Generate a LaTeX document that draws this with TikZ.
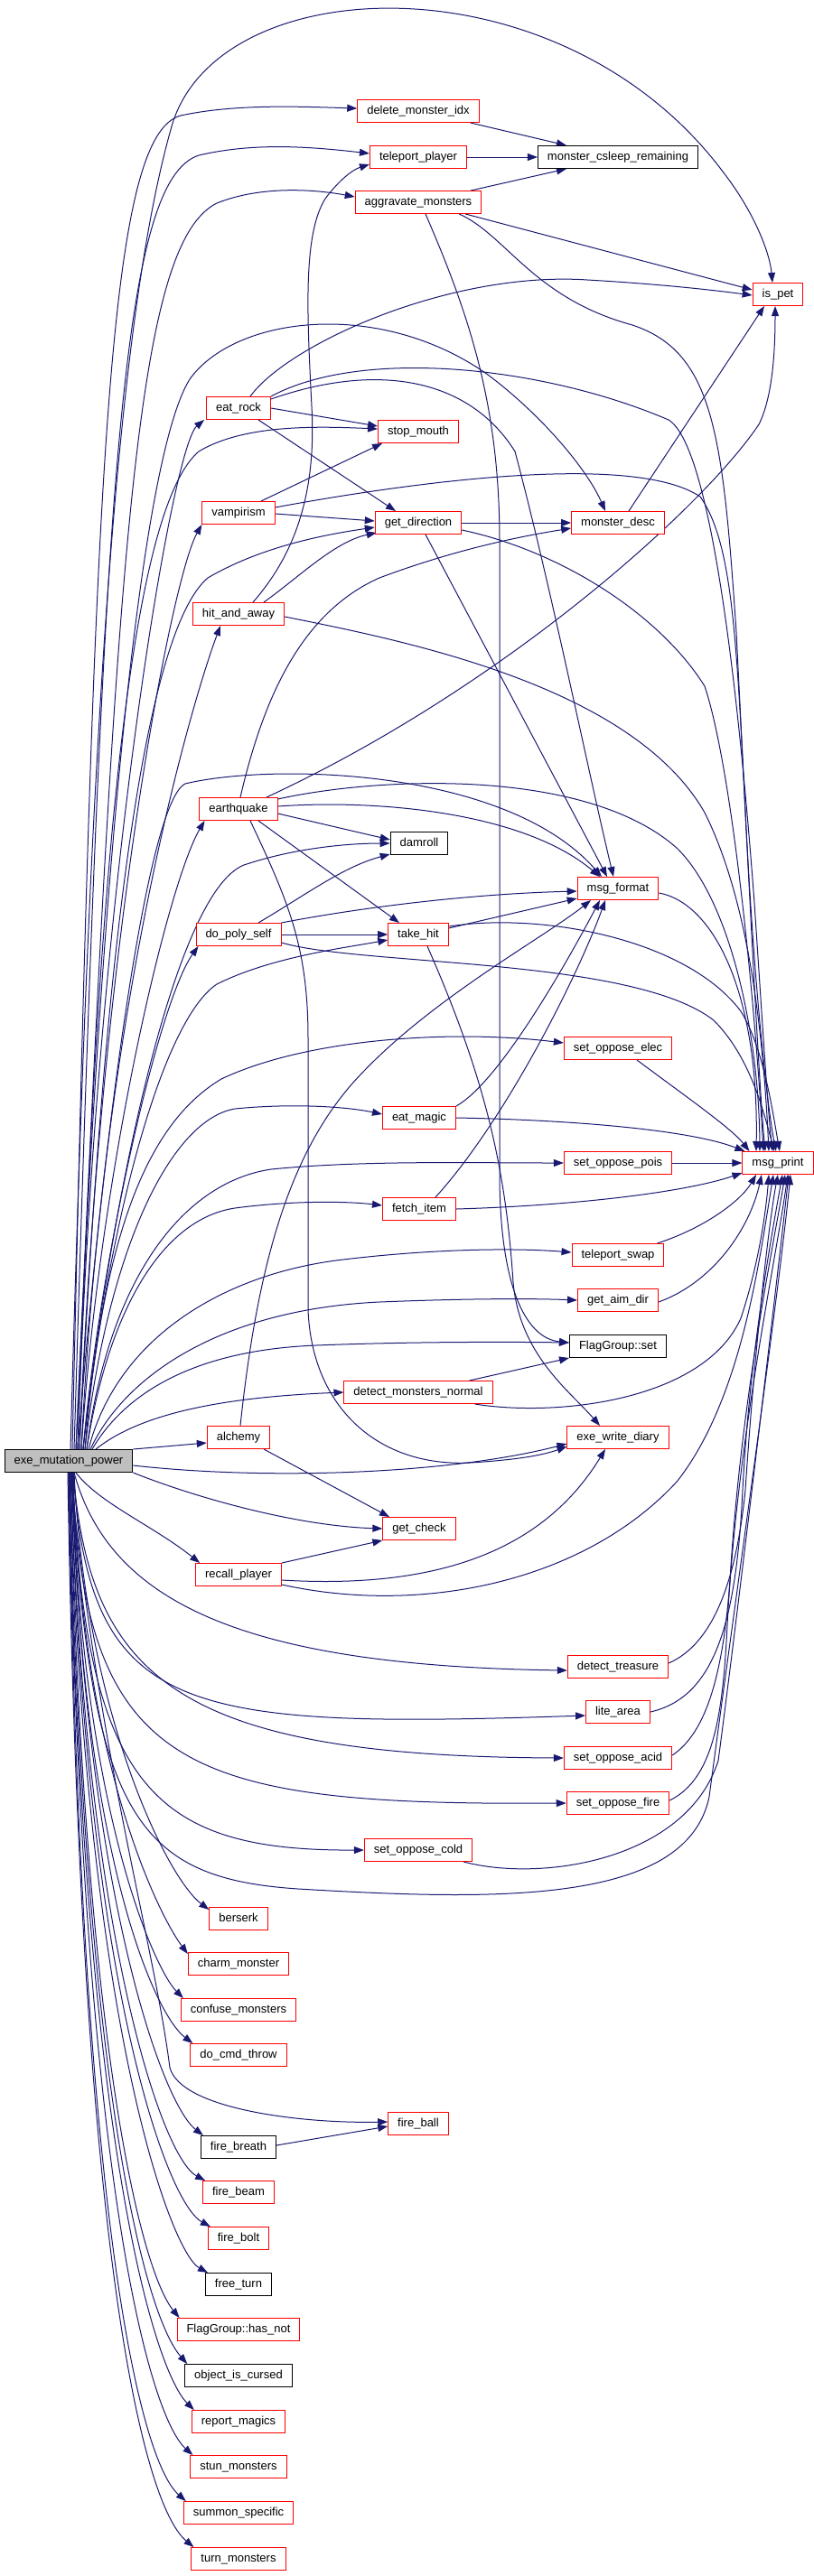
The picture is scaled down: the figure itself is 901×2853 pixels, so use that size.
\documentclass[tikz,border=0pt]{standalone}
\usepackage{fontspec}
\setmainfont{Liberation Sans}
\usetikzlibrary{arrows.meta}
\definecolor{edgeblue}{HTML}{191970}
\definecolor{rootgray}{HTML}{BFBFBF}
\definecolor{nodered}{HTML}{FF0000}
\newcommand\nodefont{\fontsize{13}{15}\selectfont}
\pgfdeclarelayer{bg}
\pgfsetlayers{bg,main}
\tikzset{
  fnode/.style={draw=nodered, line width=1pt, fill=white, font=\nodefont, inner xsep=10.5pt, inner ysep=0pt, minimum height=25pt, text height=9.6pt, text depth=3pt},
  knode/.style={fnode, draw=black},
  rnode/.style={fnode, draw=black, fill=rootgray},
  call/.style={draw=edgeblue, line width=1pt, -{Triangle[length=11pt,width=8pt]}},
}
\begin{document}
\begin{tikzpicture}[x=1pt,y=-1pt]
\useasboundingbox (0,0) rectangle (901,2853);
% nodes
\node[rnode] (E) at (76,1618) {exe\_mutation\_power};
\node[fnode] (dmi) at (463,123) {delete\_monster\_idx};
\node[fnode] (tp) at (463,174) {teleport\_player};
\node[knode] (mcr) at (684,174) {monster\_csleep\_remaining};
\node[fnode] (agg) at (463,224) {aggravate\_monsters};
\node[fnode] (ispet) at (861,326) {is\_pet};
\node[fnode] (er) at (264,452) {eat\_rock};
\node[fnode] (sm) at (463,478) {stop\_mouth};
\node[fnode] (vamp) at (264,568) {vampirism};
\node[fnode] (gd) at (463,579) {get\_direction};
\node[fnode] (md) at (684,579) {monster\_desc};
\node[fnode] (haa) at (264,680) {hit\_and\_away};
\node[fnode] (eq) at (264,896) {earthquake};
\node[knode] (dr) at (464,934) {damroll};
\node[fnode] (mf) at (684,984) {msg\_format};
\node[fnode] (dps) at (264,1035) {do\_poly\_self};
\node[fnode] (th) at (463,1035) {take\_hit};
\node[fnode] (soe) at (684,1161) {set\_oppose\_elec};
\node[fnode] (em) at (464,1238) {eat\_magic};
\node[fnode] (sop) at (684,1288) {set\_oppose\_pois};
\node[fnode] (mp) at (861,1288) {msg\_print};
\node[fnode] (fi) at (464,1339) {fetch\_item};
\node[fnode] (ts) at (684,1390) {teleport\_swap};
\node[fnode] (gad) at (684,1440) {get\_aim\_dir};
\node[knode] (fgs) at (684,1491) {FlagGroup::set};
\node[fnode] (dmn) at (463,1542) {detect\_monsters\_normal};
\node[fnode] (alc) at (264,1592) {alchemy};
\node[fnode] (ewd) at (684,1592) {exe\_write\_diary};
\node[fnode] (gc) at (464,1693) {get\_check};
\node[fnode] (rp) at (264,1744) {recall\_player};
\node[fnode] (dt) at (684,1846) {detect\_treasure};
\node[fnode] (la) at (684,1896) {lite\_area};
\node[fnode] (soa) at (684,1947) {set\_oppose\_acid};
\node[fnode] (sof) at (684,1997) {set\_oppose\_fire};
\node[fnode] (soc) at (463,2049) {set\_oppose\_cold};
\node[fnode] (bz) at (264,2125) {berserk};
\node[fnode] (cm) at (264,2175) {charm\_monster};
\node[fnode] (cfm) at (264,2226) {confuse\_monsters};
\node[fnode] (dct) at (264,2276) {do\_cmd\_throw};
\node[fnode] (fb) at (463,2352) {fire\_ball};
\node[knode] (fbr) at (264,2378) {fire\_breath};
\node[fnode] (fbm) at (264,2428) {fire\_beam};
\node[fnode] (fbo) at (264,2479) {fire\_bolt};
\node[knode] (ft) at (264,2530) {free\_turn};
\node[fnode] (fhn) at (264,2580) {FlagGroup::has\_not};
\node[knode] (oic) at (264,2631) {object\_is\_cursed};
\node[fnode] (rm) at (264,2682) {report\_magics};
\node[fnode] (stm) at (264,2732) {stun\_monsters};
\node[fnode] (ss) at (264,2783) {summon\_specific};
\node[fnode] (tm) at (264,2834) {turn\_monsters};
\begin{pgfonlayer}{bg}
% ---- from exe_mutation_power, upward
\draw[call] ([xshift=2pt]E.north) .. controls (100,800) and (130,350) .. (190,140) .. controls (240,-35) and (620,-50) .. (800,190) .. controls (835,235) and (852,280) .. ([xshift=-6pt]ispet.north);
\draw[call] ([xshift=4pt]E.north) .. controls (105,500) and (120,150) .. (200,128) .. controls (260,115) and (330,118) .. ([yshift=3pt]dmi.west);
\draw[call] ([xshift=6pt]E.north) .. controls (115,520) and (135,200) .. (220,172) .. controls (280,158) and (340,162) .. ([yshift=4pt]tp.west);
\draw[call] ([xshift=8pt]E.north) .. controls (130,600) and (150,270) .. (240,225) .. controls (290,205) and (350,210) .. ([yshift=6pt]agg.west);
\draw[call] ([xshift=10pt]E.north) .. controls (105,1000) and (190,495) .. ([xshift=-2pt]er.south west);
\draw[call] ([xshift=10pt]E.north) .. controls (110,900) and (150,560) .. (220,500) .. controls (270,470) and (350,472) .. ([yshift=3pt]sm.west);
\draw[call] ([xshift=12pt]E.north) .. controls (110,1050) and (190,640) .. (vamp.south west);
\draw[call] ([xshift=12pt]E.north) .. controls (115,1050) and (160,700) .. (230,640) .. controls (290,605) and (360,592) .. ([yshift=-5pt]gd.west);
\draw[call] ([xshift=8pt]E.north) .. controls (115,900) and (160,500) .. (210,420) .. controls (260,350) and (420,330) .. (540,415) .. controls (600,460) and (650,520) .. ([xshift=-14pt]md.north);
\draw[call] ([xshift=14pt]E.north) .. controls (115,1100) and (215,770) .. ([xshift=-20pt]haa.south);
\draw[call] ([xshift=14pt]E.north) .. controls (110,1300) and (185,980) .. ([xshift=6pt]eq.south west);
\draw[call] ([xshift=10pt]E.north) .. controls (110,1300) and (160,890) .. (205,868) .. controls (300,845) and (560,850) .. ([xshift=-18pt]mf.north);
\draw[call] ([xshift=16pt]E.north) .. controls (120,1350) and (190,990) .. (270,958) .. controls (330,938) and (390,934) .. (dr.west);
\draw[call] ([xshift=16pt]E.north) .. controls (110,1400) and (175,1110) .. ([xshift=3pt]dps.south west);
\draw[call] ([xshift=16pt]E.north) .. controls (120,1350) and (180,1130) .. (240,1090) .. controls (300,1060) and (380,1050) .. ([yshift=-6pt]th.west);
\draw[call] ([xshift=18pt]E.north) .. controls (115,1350) and (170,1240) .. (245,1195) .. controls (340,1150) and (500,1140) .. ([yshift=6pt]soe.west);
\draw[call] ([xshift=18pt]E.north) .. controls (120,1380) and (190,1240) .. (260,1228) .. controls (320,1222) and (380,1225) .. ([yshift=4pt]em.west);
\draw[call] ([xshift=20pt]E.north) .. controls (120,1420) and (200,1310) .. (300,1295) .. controls (400,1285) and (520,1288) .. (sop.west);
\draw[call] ([xshift=20pt]E.north) .. controls (120,1450) and (180,1350) .. (260,1338) .. controls (320,1330) and (380,1330) .. ([yshift=4pt]fi.west);
\draw[call] ([xshift=22pt]E.north) .. controls (130,1480) and (250,1410) .. (380,1395) .. controls (480,1383) and (570,1382) .. ([yshift=3pt]ts.west);
\draw[call] ([xshift=24pt]E.north) .. controls (140,1520) and (250,1450) .. (420,1442) .. controls (520,1438) and (590,1438) .. (gad.west);
\draw[call] ([xshift=26pt]E.north) .. controls (140,1540) and (220,1495) .. (350,1490) .. controls (450,1486) and (560,1486) .. ([yshift=4pt]fgs.west);
\draw[call] ([xshift=30pt]E.north) .. controls (150,1570) and (230,1548) .. (dmn.west);
\draw[call] (E.north east) -- ([yshift=-6pt]alc.west);
\draw[call] ([yshift=-5pt]E.east) .. controls (300,1640) and (500,1632) .. ([yshift=6pt]ewd.south west);
\draw[call] (E.south east) .. controls (220,1660) and (330,1690) .. (gc.west);
% ---- from exe_mutation_power, downward
\draw[call] ([xshift=8pt]E.south) .. controls (110,1665) and (170,1690) .. ([xshift=5pt]rp.north west);
\draw[call] ([xshift=6pt]E.south) .. controls (120,1770) and (260,1845) .. ([yshift=-4pt]dt.west);
\draw[call] ([xshift=5pt]E.south) .. controls (100,1900) and (200,1915) .. ([yshift=-4pt]la.west);
\draw[call] ([xshift=5pt]E.south) .. controls (100,1860) and (200,1945) .. (soa.west);
\draw[call] ([xshift=4pt]E.south) .. controls (95,1960) and (200,2000) .. (sof.west);
\draw[call] ([xshift=4pt]E.south) .. controls (95,1980) and (170,2050) .. (soc.west);
\draw[call] ([xshift=3pt]E.south) .. controls (100,2010) and (150,2080) .. (330,2092) .. controls (550,2105) and (760,2110) .. (785,1990) .. controls (810,1800) and (860,1450) .. ([xshift=14pt]mp.south);
\draw[call] ([xshift=2pt]E.south) .. controls (110,1950) and (170,2150) .. (188,2290) .. controls (200,2335) and (330,2352) .. ([yshift=2pt]fb.west);
\draw[call] ([xshift=6pt]E.south) .. controls (95,1900) and (185,2080) .. ([yshift=-3pt]bz.north west);
\draw[call] ([xshift=5pt]E.south) .. controls (90,1950) and (175,2120) .. ([yshift=-2pt]cm.north west);
\draw[call] ([xshift=4pt]E.south) .. controls (90,2000) and (170,2180) .. ([xshift=3pt]cfm.north west);
\draw[call] ([xshift=4pt]E.south) .. controls (90,2050) and (170,2230) .. ([xshift=3pt]dct.north west);
\draw[call] ([xshift=3pt]E.south) .. controls (95,2100) and (180,2330) .. ([xshift=3pt]fbr.north west);
\draw[call] ([xshift=2pt]E.south) .. controls (95,2150) and (180,2390) .. ([xshift=3pt]fbm.north west);
\draw[call] ([xshift=2pt]E.south) .. controls (95,2200) and (185,2440) .. ([xshift=3pt]fbo.north west);
\draw[call] ([xshift=1pt]E.south) .. controls (95,2250) and (190,2495) .. ([xshift=3pt]ft.north west);
\draw[call] ([xshift=1pt]E.south) .. controls (95,2300) and (160,2520) .. ([xshift=3pt]fhn.north west);
\draw[call] (E.south) .. controls (95,2350) and (165,2570) .. ([xshift=3pt]oic.north west);
\draw[call] (E.south) .. controls (92,2400) and (175,2630) .. ([xshift=3pt]rm.north west);
\draw[call] (E.south) .. controls (92,2450) and (170,2680) .. ([xshift=3pt]stm.north west);
\draw[call] (E.south) .. controls (90,2500) and (160,2730) .. ([xshift=3pt]ss.north west);
\draw[call] ([xshift=-1pt]E.south) .. controls (90,2550) and (165,2780) .. ([xshift=3pt]tm.north west);
% ---- other calls
\draw[call] ([xshift=-10pt]dmi.south east) -- ([xshift=32pt]mcr.north west);
\draw[call] (tp.east) -- (mcr.west);
\draw[call] ([xshift=-12pt]agg.north east) -- ([xshift=32pt]mcr.south west);
\draw[call] ([xshift=-18pt]agg.south east) -- ([yshift=5pt]ispet.west);
\draw[call] ([xshift=-25pt]agg.south east) .. controls (560,260) and (590,330) .. (700,360) .. controls (790,390) and (800,480) .. (815,700) .. controls (830,1000) and (840,1200) .. ([xshift=-14pt]mp.north);
\draw[call] ([xshift=8pt]agg.south) .. controls (520,350) and (553,450) .. (553,600) -- (553,1300) .. controls (553,1420) and (580,1482) .. ([yshift=4pt]fgs.west);
\draw[call] ([xshift=13pt]er.north) .. controls (320,380) and (500,300) .. (650,310) .. controls (720,314) and (780,320) .. ([yshift=-1pt]ispet.west);
\draw[call] (er.east) -- ([yshift=6pt]sm.west);
\draw[call] ([xshift=22pt]er.south) -- ([xshift=-25pt]gd.north);
\draw[call] ([yshift=-3pt]er.north east) .. controls (420,400) and (520,420) .. (570,500) .. controls (610,650) and (650,850) .. ([xshift=-5pt]mf.north);
\draw[call] (er.north east) .. controls (400,385) and (600,405) .. (740,465) .. controls (790,495) and (820,800) .. (835,1000) .. controls (845,1150) and (850,1230) .. ([xshift=-6pt]mp.north);
\draw[call] ([xshift=25pt]vamp.north) -- ([xshift=5pt]sm.south west);
\draw[call] ([yshift=-1pt]vamp.east) -- ([yshift=2pt]gd.west);
\draw[call] ([yshift=6pt]vamp.east) .. controls (450,535) and (700,500) .. (775,550) .. controls (810,600) and (815,700) .. (825,900) .. controls (835,1100) and (850,1230) .. ([xshift=-2pt]mp.north);
\draw[call] ([xshift=16pt]haa.north) .. controls (330,610) and (350,540) .. (345,450) .. controls (340,350) and (335,260) .. (360,220) .. controls (375,200) and (390,188) .. ([yshift=-8pt]tp.west);
\draw[call] ([xshift=28pt]haa.north) .. controls (330,640) and (370,600) .. ([xshift=2pt,yshift=2pt]gd.south west);
\draw[call] ([yshift=-3pt]haa.east) .. controls (450,710) and (700,760) .. (780,900) .. controls (830,1000) and (845,1150) .. ([xshift=-10pt]mp.north);
\draw[call] (gd.east) -- (md.west);
\draw[call] ([xshift=8pt]gd.south) -- ([xshift=-12pt]mf.north);
\draw[call] ([yshift=-8pt]gd.east) .. controls (620,610) and (730,680) .. (780,760) .. controls (810,850) and (835,1100) .. ([xshift=-16pt]mp.north);
\draw[call] ([xshift=12pt]md.north) -- ([xshift=-15pt]ispet.south);
\draw[call] ([xshift=31pt]eq.north) .. controls (560,760) and (780,560) .. (840,470) .. controls (855,440) and (858,390) .. ([xshift=-3pt]ispet.south);
\draw[call] ([xshift=2pt]eq.north) .. controls (290,780) and (330,680) .. (420,640) .. controls (500,610) and (570,595) .. ([yshift=-6pt]md.west);
\draw[call] ([yshift=3pt]eq.east) .. controls (420,885) and (580,900) .. ([xshift=-20pt]mf.north);
\draw[call] ([yshift=-2pt]eq.north east) .. controls (420,860) and (650,850) .. (750,940) .. controls (810,1000) and (840,1150) .. ([xshift=-20pt]mp.north);
\draw[call] ([yshift=-5pt]eq.east) -- ([yshift=4pt]dr.west);
\draw[call] ([xshift=22pt]eq.south) -- ([xshift=-21pt]th.north);
\draw[call] ([xshift=13pt]eq.south) .. controls (320,1000) and (341,1050) .. (341,1150) -- (341,1450) .. controls (345,1560) and (420,1625) .. (520,1620) .. controls (570,1617) and (600,1612) .. ([yshift=3pt]ewd.south west);
\draw[call] ([xshift=22pt]dps.north) .. controls (340,990) and (380,960) .. ([yshift=1pt]dr.south west);
\draw[call] (dps.north east) .. controls (400,1005) and (520,990) .. ([yshift=-3pt]mf.west);
\draw[call] (dps.east) -- (th.west);
\draw[call] ([yshift=-9pt]dps.east) .. controls (400,1070) and (700,1060) .. (790,1130) .. controls (830,1170) and (845,1230) .. ([xshift=-4pt]mp.north);
\draw[call] ([yshift=7pt]th.east) -- ([yshift=2pt]mf.south west);
\draw[call] ([yshift=9pt]th.east) .. controls (600,1010) and (760,1040) .. (820,1120) .. controls (845,1160) and (855,1230) .. ([xshift=2pt]mp.north);
\draw[call] ([xshift=10pt]th.south) .. controls (540,1200) and (560,1300) .. (568,1420) .. controls (575,1500) and (630,1540) .. ([xshift=-20pt]ewd.north);
\draw[call] ([yshift=-5pt]mf.east) .. controls (790,1000) and (840,1100) .. ([xshift=-24pt]mp.north);
\draw[call] ([xshift=21pt]soe.south) .. controls (760,1215) and (810,1250) .. ([xshift=8pt]mp.north west);
\draw[call] (em.north east) .. controls (550,1200) and (620,1080) .. ([xshift=-20pt]mf.south);
\draw[call] (em.east) .. controls (620,1240) and (760,1250) .. ([xshift=3pt]mp.north west);
\draw[call] (sop.east) -- (mp.west);
\draw[call] ([xshift=18pt]fi.north) .. controls (560,1240) and (640,1080) .. ([xshift=-14pt]mf.south);
\draw[call] (fi.east) .. controls (640,1335) and (760,1320) .. ([yshift=2pt]mp.south west);
\draw[call] ([xshift=-8pt]ts.north east) .. controls (780,1360) and (820,1330) .. ([xshift=-24pt]mp.south);
\draw[call] ([yshift=-2pt]gad.east) .. controls (790,1420) and (830,1360) .. ([xshift=-18pt]mp.south);
\draw[call] ([xshift=-26pt]dmn.north east) -- (fgs.south west);
\draw[call] ([xshift=-20pt]dmn.south east) .. controls (620,1570) and (780,1550) .. (820,1460) .. controls (840,1400) and (848,1340) .. ([xshift=-10pt]mp.south);
\draw[call] ([xshift=2pt]alc.north) .. controls (285,1400) and (320,1280) .. (390,1200) .. controls (470,1110) and (600,1040) .. ([xshift=-30pt]mf.south);
\draw[call] ([xshift=28pt]alc.south) -- ([xshift=-33pt]gc.north);
\draw[call] (rp.north east) -- (gc.south west);
\draw[call] ([yshift=-6pt]rp.east) .. controls (480,1760) and (600,1720) .. ([xshift=-14pt]ewd.south);
\draw[call] ([yshift=2pt]rp.south east) .. controls (470,1790) and (650,1750) .. (750,1640) .. controls (820,1550) and (840,1400) .. ([xshift=-5pt]mp.south);
\draw[call] ([yshift=4pt]dt.east) .. controls (790,1820) and (815,1750) .. (825,1650) .. controls (835,1500) and (850,1360) .. (mp.south);
\draw[call] (la.east) .. controls (790,1880) and (815,1800) .. (822,1650) .. controls (830,1500) and (852,1380) .. ([xshift=5pt]mp.south);
\draw[call] ([yshift=3pt]soa.east) .. controls (780,1920) and (800,1860) .. (808,1750) .. controls (820,1550) and (856,1380) .. ([xshift=8pt]mp.south);
\draw[call] ([yshift=3pt]sof.east) .. controls (790,1970) and (800,1900) .. (805,1800) .. controls (815,1600) and (858,1400) .. ([xshift=11pt]mp.south);
\draw[call] ([xshift=-10pt]soc.south east) .. controls (600,2085) and (760,2060) .. (795,1950) .. controls (815,1800) and (860,1420) .. ([xshift=12pt]mp.south);
\draw[call] ([yshift=2pt]fbr.east) -- ([yshift=-3pt]fb.west);
\end{pgfonlayer}
\end{tikzpicture}
\end{document}
